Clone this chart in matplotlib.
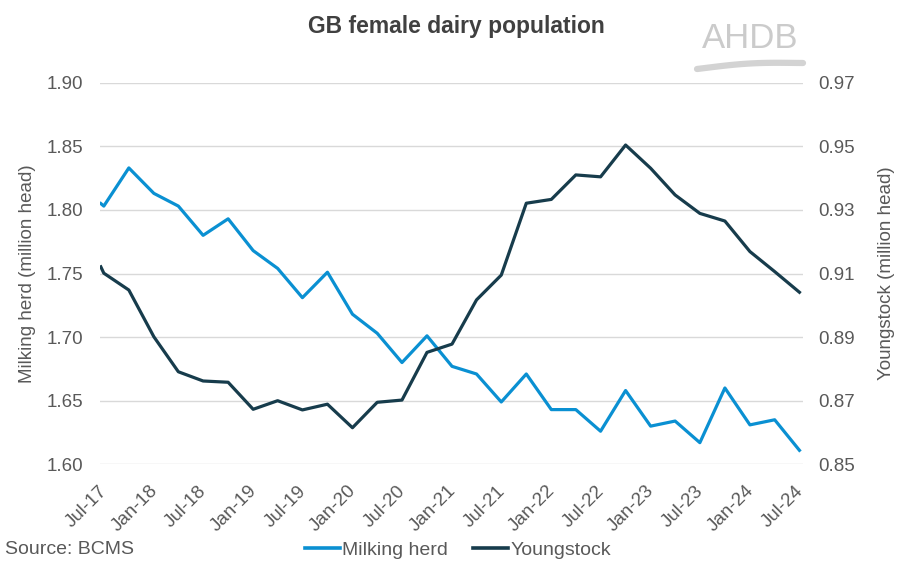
import numpy as np
import pandas as pd
import matplotlib
matplotlib.use("Agg")
import matplotlib.pyplot as plt
import matplotlib.dates as mdates
import matplotlib.transforms as mtransforms
from matplotlib.lines import Line2D

plt.rcParams["font.family"] = ["Liberation Sans", "DejaVu Sans"]

# quarterly BCMS snapshots (first point is a short lead-in just before Jul-17)
dates = pd.to_datetime(["2017-06-20"] + list(pd.date_range("2017-07-01", "2024-07-01", freq="QS").strftime("%Y-%m-%d")))

milking_herd = [1.805, 1.803, 1.833, 1.813, 1.803, 1.780, 1.793, 1.768, 1.754, 1.731, 1.751,
                1.718, 1.703, 1.680, 1.701, 1.677, 1.671, 1.649, 1.671, 1.643, 1.643,
                1.626, 1.658, 1.630, 1.634, 1.617, 1.660, 1.631, 1.635, 1.611]
youngstock = [0.9121, 0.9101, 0.9048, 0.8901, 0.8791, 0.8762, 0.8758, 0.8673, 0.8700, 0.8671,
              0.8689, 0.8615, 0.8695, 0.8702, 0.8852, 0.8878, 0.9017, 0.9095, 0.9321, 0.9333,
              0.9410, 0.9404, 0.9504, 0.9431, 0.9347, 0.9289, 0.9265, 0.9169, 0.9106, 0.9041]

BLUE = "#0a90d2"
NAVY = "#173c4c"
TXT = "#595959"
FS = 13.5

fig = plt.figure(figsize=(9.12, 5.67), dpi=100)
ax = fig.add_axes([100 / 912, 1 - 464.3 / 567, 702.7 / 912, (464.3 - 82.7) / 567])
ax2 = ax.twinx()

ax.plot(dates, milking_herd, color=BLUE, lw=2.3, solid_joinstyle="round", zorder=3)
ax2.plot(dates, youngstock, color=NAVY, lw=2.3, solid_joinstyle="round", zorder=3)

ax.set_ylim(1.60, 1.90)
ax.set_yticks(np.arange(1.60, 1.901, 0.05))
ax.yaxis.set_major_formatter(plt.FormatStrFormatter("%.2f"))
ax2.set_ylim(0.85, 0.97)
ax2.set_yticks(np.arange(0.85, 0.971, 0.02))
ax2.yaxis.set_major_formatter(plt.FormatStrFormatter("%.2f"))

ax.set_xlim(dates[0] - pd.Timedelta(days=3), dates[-1] + pd.Timedelta(days=12))
ax.xaxis.set_major_locator(mdates.MonthLocator(bymonth=[1, 7]))
ax.xaxis.set_major_formatter(mdates.DateFormatter("%b-%y"))

ax.grid(axis="y", color="#d9d9d9", lw=1.0)
ax.set_axisbelow(True)
for a in (ax, ax2):
    for s in a.spines.values():
        s.set_visible(False)
    a.tick_params(length=0, labelsize=FS, colors=TXT)
ax.tick_params(axis="y", pad=12)
ax2.tick_params(axis="y", pad=11)
ax.tick_params(axis="x", pad=13)
shift = mtransforms.ScaledTranslation(-5 / 100, 0, fig.dpi_scale_trans)
for lbl in ax.get_xticklabels():
    lbl.set_rotation(45)
    lbl.set_ha("right")
    lbl.set_rotation_mode("anchor")
    lbl.set_transform(lbl.get_transform() + shift)

ax.set_ylabel("Milking herd (million head)", fontsize=13.5, color=TXT, va="center")
ax.yaxis.set_label_coords(-72 / 702.7, 0.5)
ax2.set_ylabel("Youngstock (million head)", fontsize=13.5, color=TXT, va="center")
ax2.yaxis.set_label_coords(787 / 702.7, 0.5)

fig.text(456 / 912, 1 - 27 / 567, "GB female dairy population", ha="center", va="center",
         fontsize=16.5, fontweight="bold", color="#404040")
fig.text(5 / 912, 1 - 550 / 567, "Source: BCMS", ha="left", va="center", fontsize=14, color=TXT)

# AHDB logo mark
fig.text(750 / 912, 1 - 39 / 567, "AHDB", ha="center", va="center", fontsize=25,
         color="#cbcbcb")
t = np.linspace(0, 1, 60)
fig.add_artist(Line2D((697 + 106 * t) / 912, 1 - (69 - 4 * np.sin(np.pi * t) - 6 * t ** 2) / 567,
                      transform=fig.transFigure, color="#d3d3d3", lw=4.5, solid_capstyle="round"))

handles = [Line2D([], [], color=BLUE, lw=2.6), Line2D([], [], color=NAVY, lw=2.6)]
fig.legend(handles, ["Milking herd", "Youngstock"], loc="center", bbox_to_anchor=(458 / 912, 1 - 550 / 567),
           ncol=2, frameon=False, fontsize=14, handlelength=1.8, handletextpad=0.1, columnspacing=1.3,
           labelcolor=TXT, borderaxespad=0)

fig.savefig("out.png", dpi=100)
